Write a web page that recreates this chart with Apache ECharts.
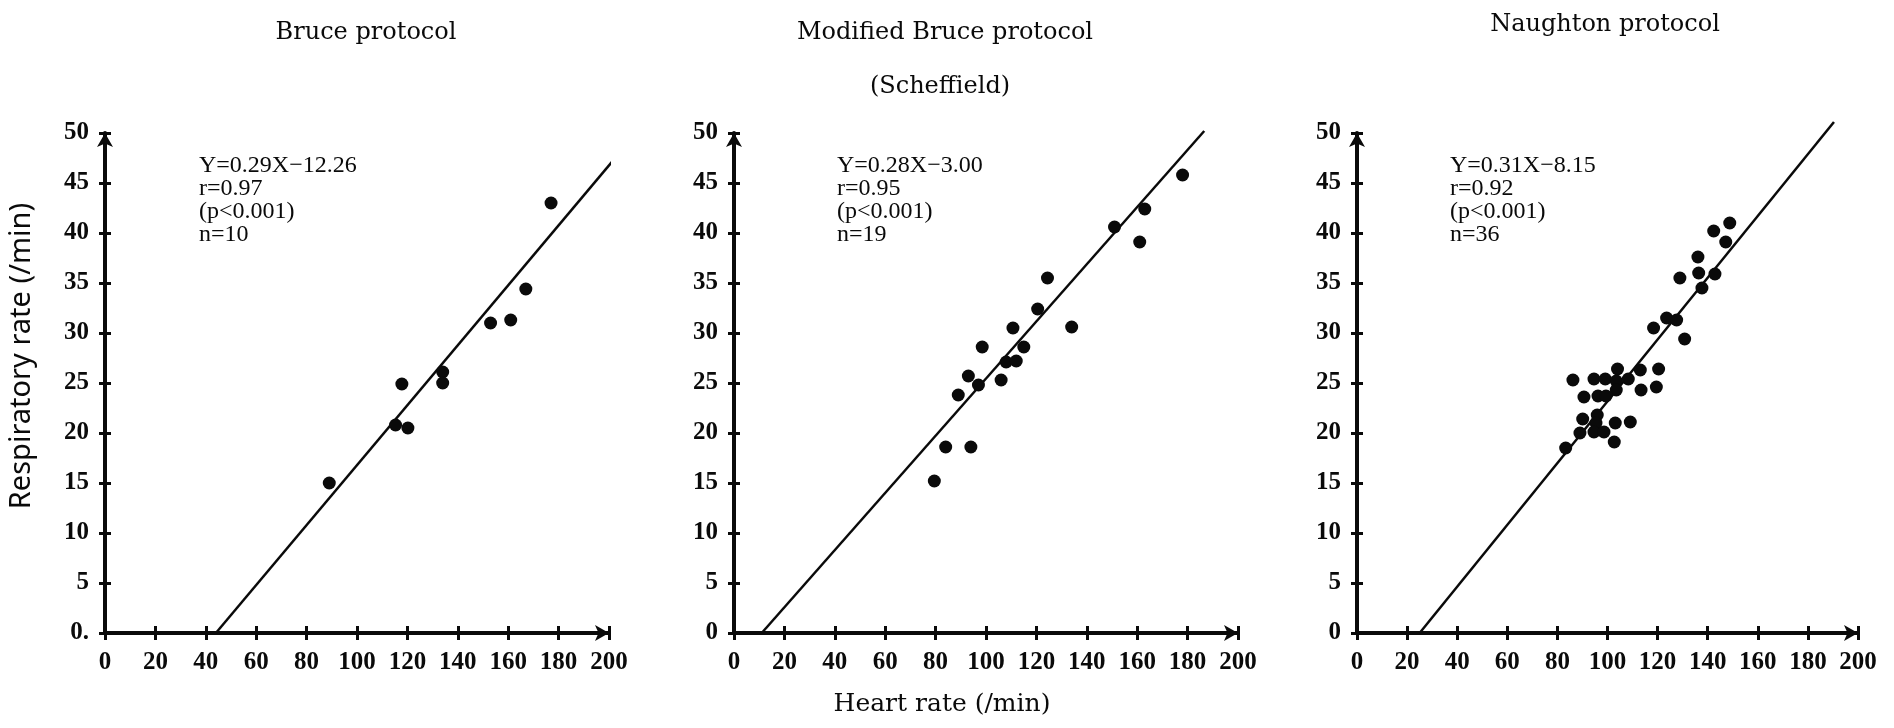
<!DOCTYPE html>
<html>
<head>
<meta charset="utf-8">
<script src="https://cdn.jsdelivr.net/npm/echarts@6/dist/echarts.min.js"></script>
<style>html,body{margin:0;padding:0;background:#fff;}#c{width:1894px;height:728px;}</style>
</head>
<body>
<div id="c"></div>
<script>
// ---- Data ----
const xTickValues = [0, 20, 40, 60, 80, 100, 120, 140, 160, 180, 200];
const yTickValues = [0, 5, 10, 15, 20, 25, 30, 35, 40, 45, 50];

const titles = ['Bruce protocol', 'Modified Bruce protocol', 'Naughton protocol'];
const subTitle = '(Scheffield)';
const yAxisName = 'Respiratory rate (/min)';
const xAxisName = 'Heart rate (/min)';

// Bruce protocol
const bruceHR = [89, 115.3, 120.2, 117.8, 134, 134, 153, 161, 167, 177];
const bruceRR = [15.0, 20.8, 20.5, 24.9, 26.1, 25.0, 31.0, 31.3, 34.4, 43.0];
const bruceFitHR = [44, 202.8];
const bruceFitRR = [0, 47.6];
const bruceStats = ['Y=0.29X\u221212.26', 'r=0.97', '(p<0.001)', 'n=10'];

// Modified Bruce protocol (Scheffield)
const modHR = [79.5, 84, 94, 89, 93, 97, 98.5, 106, 108, 112, 110.7, 115, 120.5, 124.4, 134, 151, 161, 163, 178];
const modRR = [15.2, 18.6, 18.6, 23.8, 25.7, 24.8, 28.6, 25.3, 27.1, 27.2, 30.5, 28.6, 32.4, 35.5, 30.6, 40.6, 39.1, 42.4, 45.8];
const modFitHR = [11, 186.6];
const modFitRR = [0, 50.2];
const modStats = ['Y=0.28X\u22123.00', 'r=0.95', '(p<0.001)', 'n=19'];

// Naughton protocol
const naugHR = [83.3, 86.2, 90.6, 90.1, 89, 94.6, 99.1, 104, 103.5, 103.5, 96.2, 99.4, 95.9, 95.4, 94.6, 98.6, 103.1, 102.7, 109.1, 108.3, 113.1, 113.4, 120.4, 119.5, 118.4, 123.6, 127.6, 130.8, 128.9, 136.1, 136.4, 137.7, 142.9, 142.4, 147.2, 148.8];
const naugRR = [18.5, 25.3, 23.6, 21.4, 20.0, 25.4, 25.4, 26.4, 25.2, 24.3, 23.7, 23.7, 21.8, 21.0, 20.1, 20.1, 21.0, 19.1, 21.1, 25.4, 26.3, 24.3, 26.4, 24.6, 30.5, 31.5, 31.3, 29.4, 35.5, 37.6, 36.0, 34.5, 35.9, 40.2, 39.1, 41.0];
const naugFitHR = [25, 190.4];
const naugFitRR = [0, 51.1];
const naugStats = ['Y=0.31X\u22128.15', 'r=0.92', '(p<0.001)', 'n=36'];

// ---- Build chart ----
const zip = (a, b) => a.map((v, i) => [v, b[i]]);
const INK = '#0a0a0a';
const panels = [
  { hr: bruceHR, rr: bruceRR, fx: bruceFitHR, fy: bruceFitRR, stats: bruceStats, grid: { left: 105, top: 133, width: 504, height: 500 }, statPos: [199, 154], zeroLabel: '0.' },
  { hr: modHR, rr: modRR, fx: modFitHR, fy: modFitRR, stats: modStats, grid: { left: 734, top: 133, width: 504, height: 500 }, statPos: [837, 154], zeroLabel: '0' },
  { hr: naugHR, rr: naugRR, fx: naugFitHR, fy: naugFitRR, stats: naugStats, grid: { left: 1357, top: 133, width: 501, height: 500 }, statPos: [1450, 154], zeroLabel: '0' }
];

const grids = [], xAxes = [], yAxes = [], series = [];
const labelFont = { color: INK, fontFamily: 'Liberation Serif', fontSize: 25, fontWeight: 'bold' };
const yMin = yTickValues[0], yMax = yTickValues[yTickValues.length - 1];
const xMin = xTickValues[0], xMax = xTickValues[xTickValues.length - 1];

panels.forEach((p, i) => {
  grids.push(p.grid);
  xAxes.push({
    type: 'value', gridIndex: i, min: xMin, max: xMax, interval: 20,
    axisLine: { show: true, onZero: false, lineStyle: { color: INK, width: 4 }, symbol: ['none', 'arrow'], symbolSize: [12, 14] },
    axisTick: { show: true, inside: false, length: 7, lineStyle: { color: INK, width: 3 } },
    axisLabel: Object.assign({ margin: 17 }, labelFont),
    splitLine: { show: false }
  });
  xAxes.push({
    type: 'value', gridIndex: i, min: xMin, max: xMax, interval: 20, position: 'bottom',
    axisLine: { show: false, onZero: false },
    axisTick: { show: true, inside: true, length: 7, lineStyle: { color: INK, width: 3 } },
    axisLabel: { show: false }, splitLine: { show: false }
  });
  yAxes.push({
    type: 'value', gridIndex: i, min: yMin, max: yMax, interval: 5,
    axisLine: { show: true, onZero: false, lineStyle: { color: INK, width: 4 }, symbol: ['none', 'arrow'], symbolSize: [12, 14] },
    axisTick: { show: true, inside: false, length: 6, lineStyle: { color: INK, width: 3 } },
    axisLabel: Object.assign({ margin: 16, formatter: v => (v === 0 ? p.zeroLabel : String(v)) }, labelFont),
    splitLine: { show: false }
  });
  yAxes.push({
    type: 'value', gridIndex: i, min: yMin, max: yMax, interval: 5, position: 'left',
    axisLine: { show: false, onZero: false },
    axisTick: { show: true, inside: true, length: 6, lineStyle: { color: INK, width: 3 } },
    axisLabel: { show: false }, splitLine: { show: false }
  });
  series.push({
    type: 'line', xAxisIndex: 2 * i, yAxisIndex: 2 * i, data: zip(p.fx, p.fy),
    showSymbol: false, symbol: 'none', clip: false, silent: true,
    lineStyle: { color: INK, width: 2.5 }, z: 3
  });
  series.push({
    type: 'scatter', xAxisIndex: 2 * i, yAxisIndex: 2 * i, data: zip(p.hr, p.rr),
    symbol: 'circle', symbolSize: 13, itemStyle: { color: INK, opacity: 1 }, z: 4
  });
});

const graphic = [];
const titlePos = [[366, 33], [945, 33], [1605, 25]];
titles.forEach((t, i) => {
  graphic.push({ type: 'text', x: titlePos[i][0], y: titlePos[i][1],
    style: { text: t, font: '24px "DejaVu Serif"', fill: INK, align: 'center', verticalAlign: 'middle' } });
});
graphic.push({ type: 'text', x: 940, y: 87,
  style: { text: subTitle, font: '24px "DejaVu Serif"', fill: INK, align: 'center', verticalAlign: 'middle' } });
panels.forEach(p => {
  graphic.push({ type: 'text', x: p.statPos[0], y: p.statPos[1],
    style: { text: p.stats.join('\n'), font: '24px "Liberation Serif"', lineHeight: 23, fill: INK, align: 'left', verticalAlign: 'top' } });
});
graphic.push({ type: 'text', x: 22, y: 356, rotation: Math.PI / 2,
  style: { text: yAxisName, font: '29px "Noto Sans"', fill: INK, align: 'center', verticalAlign: 'middle' } });
graphic.push({ type: 'text', x: 942, y: 704,
  style: { text: xAxisName, font: '25px "DejaVu Serif"', fill: INK, align: 'center', verticalAlign: 'middle' } });

const chart = echarts.init(document.getElementById('c'), null, { renderer: 'canvas' });
chart.setOption({
  animation: false,
  backgroundColor: '#fff',
  grid: grids,
  xAxis: xAxes,
  yAxis: yAxes,
  series: series,
  graphic: graphic
});
</script>
</body>
</html>
